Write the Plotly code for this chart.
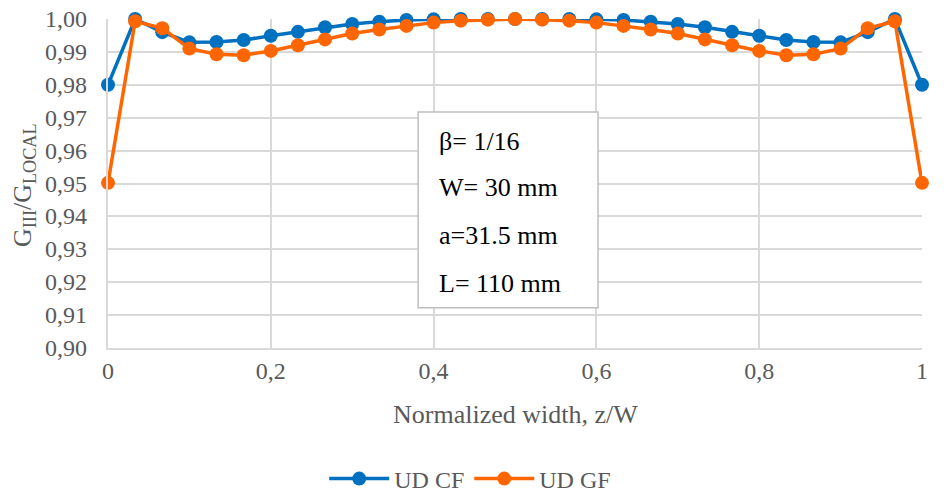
import plotly.graph_objects as go

z = [i / 30 for i in range(31)]
ud_cf = [0.9800, 1.0000, 0.9960, 0.9929, 0.9930, 0.9936, 0.9949, 0.9961, 0.9975, 0.9985,
         0.9992, 0.9997, 0.9999, 1.0000, 1.0000, 1.0000, 1.0000, 1.0000, 0.9999, 0.9997,
         0.9992, 0.9985, 0.9975, 0.9961, 0.9949, 0.9936, 0.9930, 0.9929, 0.9960, 1.0000, 0.9800]
ud_gf = [0.9502, 0.9993, 0.9972, 0.9910, 0.9893, 0.9890, 0.9903, 0.9920, 0.9938, 0.9956,
         0.9968, 0.9979, 0.9989, 0.9995, 0.9998, 1.0000, 0.9998, 0.9995, 0.9989, 0.9979,
         0.9968, 0.9956, 0.9938, 0.9920, 0.9903, 0.9890, 0.9893, 0.9910, 0.9972, 0.9993, 0.9502]
x_tickvals = [0, 0.2, 0.4, 0.6, 0.8, 1]
x_ticktext = ["0", "0,2", "0,4", "0,6", "0,8", "1"]
y_tickvals = [0.90, 0.91, 0.92, 0.93, 0.94, 0.95, 0.96, 0.97, 0.98, 0.99, 1.00]
y_ticktext = ["0,90", "0,91", "0,92", "0,93", "0,94", "0,95", "0,96", "0,97", "0,98", "0,99", "1,00"]
box_lines = ["β= 1/16", "W= 30 mm", "a=31.5 mm", "L= 110 mm"]

FONT = "Liberation Serif"
GRAY = "#595959"
GRID = "#D9D9D9"
FS_TICK = 24
FS_TITLE = 26

fig = go.Figure()
fig.add_trace(go.Scatter(x=z, y=ud_cf, mode="lines+markers", name="UD CF",
                         line=dict(color="#0070C0", width=3.5),
                         marker=dict(size=14, color="#0070C0"), cliponaxis=False))
fig.add_trace(go.Scatter(x=z, y=ud_gf, mode="lines+markers", name="UD GF",
                         line=dict(color="#FF6600", width=3.5),
                         marker=dict(size=14, color="#FF6600"), cliponaxis=False))

fig.add_shape(type="rect", xref="paper", yref="paper", x0=0.381, x1=0.602, y0=0.122, y1=0.717,
              line=dict(color="#BFBFBF", width=1.5), fillcolor="white", layer="above")
line_y_px = [141, 188, 236, 283]
for txt, py in zip(box_lines, line_y_px):
    fig.add_annotation(xref="paper", yref="paper", x=(437 - 108) / 814, y=(348 - py) / 329,
                       text=txt, showarrow=False, xanchor="left", yanchor="middle",
                       font=dict(family=FONT, size=FS_TITLE, color="black"))

# y tick labels, placed at the axis tick values
for val, lab in zip(y_tickvals, y_ticktext):
    fig.add_annotation(xref="paper", yref="y", x=(89 - 108) / 814, y=val,
                       text=lab, showarrow=False, xanchor="right", yanchor="middle",
                       font=dict(family=FONT, size=FS_TICK, color=GRAY))

fig.add_annotation(xref="paper", yref="paper", x=(515 - 108) / 814, y=(348 - 414) / 329,
                   text="Normalized width, z/W", showarrow=False, xanchor="center", yanchor="middle",
                   font=dict(family=FONT, size=FS_TITLE, color=GRAY))
fig.add_annotation(xref="paper", yref="paper", x=(24 - 108) / 814, y=(348 - 185) / 329,
                   text="G<sub>III</sub>/G<sub>LOCAL</sub>", showarrow=False, textangle=-90,
                   xanchor="center", yanchor="middle",
                   font=dict(family=FONT, size=FS_TITLE, color=GRAY))

fig.update_layout(
    width=944, height=492,
    margin=dict(l=108, r=22, t=19, b=144, autoexpand=False),
    paper_bgcolor="white", plot_bgcolor="white",
    font=dict(family=FONT, size=FS_TICK, color=GRAY),
    showlegend=True,
    legend=dict(orientation="h", x=0.445, y=(348 - 479) / 329, xanchor="center", yanchor="middle",
                font=dict(family=FONT, size=FS_TICK, color=GRAY), itemwidth=60),
    xaxis=dict(range=[0, 1], tickvals=x_tickvals, ticktext=x_ticktext,
               showgrid=True, gridcolor=GRID, gridwidth=1.5,
               showline=True, linecolor=GRID, linewidth=1.5, zeroline=False,
               ticks=""),
    yaxis=dict(range=[0.90, 1.00], tickvals=y_tickvals, showticklabels=False,
               showgrid=True, gridcolor=GRID, gridwidth=1.5,
               showline=True, linecolor=GRID, linewidth=1.5, zeroline=False,
               ticks=""),
)

fig.write_html("out.html", config={"displayModeBar": False},
               post_script="document.body.style.margin='0';")
